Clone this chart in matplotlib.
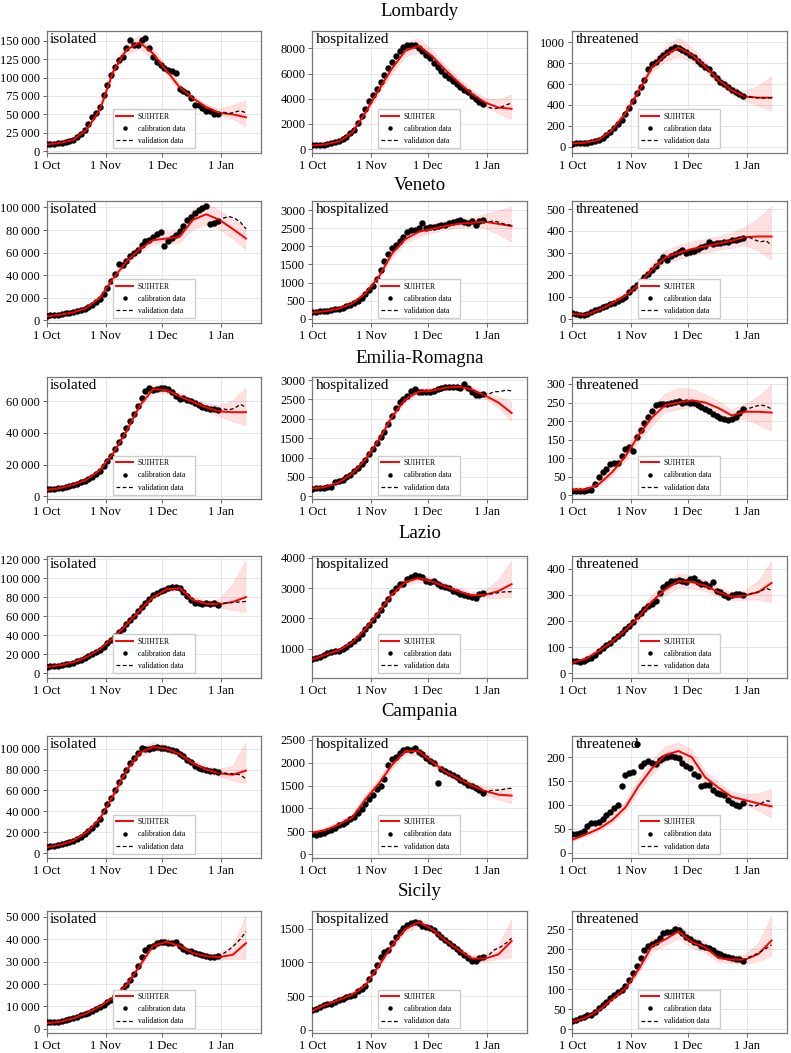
"""
SUIHTER fit vs data for six Italian regions, three compartments each.
"""

import numpy as np
import matplotlib
matplotlib.use("Agg")
from matplotlib import pyplot as plt
from matplotlib.ticker import FuncFormatter

plt.rcParams["font.family"] = ["Liberation Serif", "DejaVu Serif"]

regions = ["Lombardy", "Veneto", "Emilia-Romagna", "Lazio", "Campania", "Sicily"]
compartments = ["isolated", "hospitalized", "threatened"]
month_ticks = [0, 31, 61, 92]          # days after 1 Oct
month_labels = ["1 Oct", "1 Nov", "1 Dec", "1 Jan"]

cal_days = list(range(0, 91, 2))      # calibration data, every other day
val_days = [90, 93, 96, 99, 102, 105]  # validation data
fit_days = list(range(0, 106, 7))     # model output, weekly

# ---- Lombardy
lom_iso_cal = [9000, 9000, 9500, 10500, 11500, 12500, 14000, 15500, 19000, 23000,
               28000, 37000, 46000, 52000, 60000, 77000, 90000, 104000, 115000, 124000,
               128000, 140000, 152000, 144000, 145000, 152000, 154000, 140000, 128000, 122000,
               117000, 113000, 110000, 109000, 106000, 84000, 82000, 79000, 72000, 63000,
               63000, 58000, 54000, 54000, 50000, 50000]
lom_iso_val = [50000, 53000, 51000, 53000, 55000, 52000]
lom_iso_fit = [9000, 11000, 15000, 29000, 56000, 108000, 138000, 148000, 133000, 110000,
               87000, 72000, 60000, 52000, 50000, 46000]
lom_iso_up = [1000, 1000, 1500, 2500, 4000, 6000, 8000, 9000, 8000, 6000, 4500, 4000, 4000, 5000, 12000, 22000]
lom_iso_dn = [1000, 1000, 1500, 2500, 4000, 6000, 8000, 9000, 8000, 6000, 4500, 4000, 4000, 4000, 7000, 13000]
lom_iso_ticks = [0, 25000, 50000, 75000, 100000, 125000, 150000]

lom_hos_cal = [300, 310, 330, 360, 400, 450, 530, 630, 780, 960,
               1250, 1550, 2050, 2600, 3200, 3800, 4300, 4800, 5300, 5900,
               6400, 6900, 7400, 7800, 8100, 8250, 8300, 8250, 8050, 7800,
               7500, 7200, 6800, 6500, 6200, 5900, 5650, 5400, 5200, 4900,
               4700, 4500, 4250, 4000, 3750, 3550]
lom_hos_val = [3550, 3300, 3200, 3300, 3500, 3650]
lom_hos_fit = [280, 370, 600, 1300, 2900, 4700, 6400, 7800, 8200, 7400, 6300, 5300, 4400, 3700, 3300, 3200]
lom_hos_up = [100, 100, 150, 200, 300, 400, 500, 500, 600, 500, 400, 350, 300, 350, 600, 1100]
lom_hos_dn = [100, 100, 150, 200, 300, 400, 500, 500, 600, 500, 400, 350, 300, 350, 500, 850]
lom_hos_ticks = [0, 2000, 4000, 6000, 8000]

lom_thr_cal = [30, 32, 33, 35, 38, 42, 50, 62, 85, 110,
               140, 180, 215, 260, 310, 370, 440, 510, 570, 640,
               740, 790, 810, 850, 880, 910, 935, 955, 945, 925,
               905, 880, 855, 820, 790, 765, 740, 700, 660, 620,
               600, 570, 545, 520, 505, 490]
lom_thr_val = [490, 478, 470, 468, 465, 470]
lom_thr_fit = [30, 38, 65, 160, 320, 530, 760, 880, 950, 880, 770, 640, 540, 480, 470, 470]
lom_thr_up = [5, 8, 15, 20, 30, 40, 50, 70, 90, 70, 50, 40, 40, 50, 110, 200]
lom_thr_dn = [5, 8, 15, 20, 30, 40, 50, 70, 90, 70, 50, 40, 40, 45, 80, 130]
lom_thr_ticks = [0, 200, 400, 600, 800, 1000]

# ---- Veneto
ven_iso_cal = [4000, 4300, 4700, 5100, 5500, 6100, 6800, 7600, 8300, 9200,
               10200, 11500, 13500, 16000, 19000, 23500, 29000, 35000, 41000, 50000,
               49000, 53000, 57000, 60000, 62000, 67000, 70000, 71500, 73500, 76500,
               78000, 66000, 70000, 73000, 76000, 79000, 84000, 89000, 92000, 95000,
               97500, 99500, 101000, 85000, 86500, 88000]
ven_iso_val = [88000, 90500, 92000, 90500, 87000, 81000]
ven_iso_fit = [3500, 5000, 7000, 11000, 20000, 37000, 52000, 63000, 71000, 72500,
               74000, 89000, 94000, 89000, 81000, 72500]
ven_iso_up = [400, 500, 700, 1000, 1500, 2500, 3500, 4000, 4000, 5000, 6000, 9000, 9500, 8500, 8500, 10000]
ven_iso_dn = [400, 500, 700, 1000, 1500, 2500, 3500, 4000, 4000, 5000, 6000, 9000, 9500, 8500, 8500, 10000]
ven_iso_ticks = [0, 20000, 40000, 60000, 80000, 100000]

ven_hos_cal = [190, 190, 200, 210, 220, 240, 260, 280, 300, 340,
               390, 440, 500, 580, 680, 800, 900, 1100, 1350, 1600,
               1800, 1950, 2050, 2150, 2250, 2400, 2450, 2450, 2500, 2650,
               2500, 2520, 2540, 2550, 2580, 2600, 2650, 2680, 2700, 2720,
               2680, 2650, 2700, 2600, 2700, 2720]
ven_hos_val = [2720, 2680, 2700, 2650, 2600, 2580]
ven_hos_fit = [170, 210, 280, 420, 700, 1150, 1800, 2200, 2400, 2480, 2560, 2620, 2650, 2680, 2620, 2560]
ven_hos_up = [30, 30, 40, 50, 70, 100, 130, 150, 150, 130, 120, 120, 130, 200, 350, 530]
ven_hos_dn = [30, 30, 40, 50, 70, 100, 130, 150, 150, 130, 120, 120, 130, 180, 300, 440]
ven_hos_ticks = [0, 500, 1000, 1500, 2000, 2500, 3000]

ven_thr_cal = [25, 22, 18, 15, 20, 32, 40, 46, 52, 58,
               65, 72, 80, 90, 100, 120, 140, 152, 170, 190,
               205, 220, 240, 262, 282, 268, 288, 295, 302, 312,
               300, 305, 310, 320, 328, 330, 348, 342, 343, 345,
               350, 352, 358, 360, 365, 366]
ven_thr_val = [366, 372, 360, 350, 356, 335]
ven_thr_fit = [22, 18, 40, 70, 105, 155, 225, 280, 300, 318, 330, 343, 355, 372, 375, 375]
ven_thr_up = [8, 8, 10, 12, 15, 20, 25, 30, 32, 32, 32, 32, 35, 45, 80, 135]
ven_thr_dn = [8, 8, 10, 12, 15, 20, 25, 30, 32, 32, 32, 32, 35, 40, 65, 108]
ven_thr_ticks = [0, 100, 200, 300, 400, 500]

# ---- Emilia-Romagna
emi_iso_cal = [4300, 4500, 4800, 5100, 5500, 5900, 6500, 7300, 8000, 8800,
               9800, 10800, 12200, 14000, 16200, 19000, 22000, 25500, 29500, 34000,
               38500, 43000, 47500, 52000, 57000, 62000, 66500, 68500, 67000, 67500,
               68500, 68500, 67500, 66000, 63000, 61500, 62000, 60500, 60000, 58500,
               57500, 56500, 55500, 55000, 55000, 54500]
emi_iso_val = [54500, 55000, 54500, 55500, 58000, 56000]
emi_iso_fit = [4000, 5200, 7200, 10500, 16500, 27000, 41000, 57000, 67500, 67000,
               63000, 59500, 56000, 53500, 53000, 53000]
emi_iso_up = [300, 400, 500, 600, 800, 1000, 1500, 2000, 2500, 2300, 2000, 2000, 2500, 3500, 7000, 15000]
emi_iso_dn = [300, 400, 500, 600, 800, 1000, 1500, 2000, 2500, 2300, 2000, 2000, 2500, 3500, 6000, 8500]
emi_iso_ticks = [0, 20000, 40000, 60000]

emi_hos_cal = [200, 205, 210, 220, 230, 240, 370, 390, 430, 500,
               560, 640, 720, 820, 930, 1080, 1220, 1380, 1520, 1660,
               1860, 2060, 2270, 2420, 2500, 2600, 2720, 2770, 2680, 2680,
               2700, 2690, 2720, 2760, 2800, 2830, 2830, 2830, 2820, 2790,
               2890, 2800, 2680, 2610, 2620, 2630]
emi_hos_val = [2630, 2640, 2700, 2700, 2740, 2720]
emi_hos_fit = [200, 240, 360, 580, 950, 1450, 2050, 2500, 2700, 2720, 2800, 2830, 2760, 2600, 2420, 2150]
emi_hos_up = [20, 20, 30, 40, 50, 60, 70, 80, 80, 70, 70, 70, 70, 80, 150, 270]
emi_hos_dn = [20, 20, 30, 40, 50, 60, 70, 80, 80, 70, 70, 70, 70, 80, 150, 210]
emi_hos_ticks = [0, 500, 1000, 1500, 2000, 2500, 3000]

emi_thr_cal = [12, 12, 11, 12, 13, 14, 30, 48, 62, 70,
               85, 87, 88, 105, 125, 130, 118, 158, 175, 195,
               212, 228, 242, 247, 245, 247, 249, 252, 255, 248,
               251, 250, 248, 244, 238, 232, 227, 220, 214, 209,
               206, 203, 205, 212, 222, 232]
emi_thr_val = [232, 234, 239, 243, 241, 232]
emi_thr_fit = [15, 15, 30, 62, 105, 162, 210, 243, 250, 256, 250, 235, 215, 225, 225, 223]
emi_thr_up = [5, 5, 8, 12, 15, 20, 25, 30, 38, 30, 22, 18, 15, 20, 40, 75]
emi_thr_dn = [5, 5, 8, 12, 15, 20, 25, 20, 20, 20, 18, 15, 15, 20, 35, 50]
emi_thr_ticks = [0, 50, 100, 150, 200, 250, 300]

# ---- Lazio
laz_iso_cal = [7000, 7300, 7700, 8200, 8800, 9400, 10200, 11200, 12500, 14000,
               15800, 17800, 20000, 22500, 25000, 28000, 31500, 35000, 39000, 43000,
               47000, 51500, 56000, 60500, 65000, 69500, 74000, 78500, 82000, 84500,
               86500, 88000, 90000, 91000, 91000, 89500, 85000, 81000, 77000, 74000,
               73500, 73000, 73500, 73000, 73500, 71500]
laz_iso_val = [71500, 73500, 74000, 74500, 75000, 75500]
laz_iso_fit = [6500, 8500, 11500, 17000, 25500, 37000, 51000, 66000, 80000, 88000,
               89500, 77000, 73000, 72500, 75000, 80000]
laz_iso_up = [500, 600, 800, 1000, 1500, 2000, 2500, 3000, 3000, 3000, 3000, 3000, 3000, 5000, 18000, 38000]
laz_iso_dn = [500, 600, 800, 1000, 1500, 2000, 2500, 3000, 3000, 3000, 3000, 3000, 3000, 4000, 9000, 16000]
laz_iso_ticks = [0, 20000, 40000, 60000, 80000, 100000, 120000]

laz_hos_cal = [655, 690, 730, 790, 840, 880, 910, 930, 990, 1060,
               1150, 1240, 1360, 1480, 1640, 1780, 1930, 2100, 2280, 2470,
               2650, 2860, 3000, 3140, 3150, 3300, 3360, 3420, 3400, 3370,
               3250, 3200, 3250, 3140, 3080, 3030, 3000, 2920, 2880, 2800,
               2770, 2750, 2720, 2660, 2800, 2840]
laz_hos_val = [2840, 2800, 2820, 2860, 2880, 2880]
laz_hos_fit = [640, 800, 950, 1200, 1650, 2200, 2800, 3200, 3330, 3220, 3050, 2900, 2760, 2780, 2900, 3130]
laz_hos_up = [40, 50, 60, 70, 90, 100, 120, 130, 130, 120, 110, 100, 100, 130, 350, 760]
laz_hos_dn = [40, 50, 60, 70, 90, 100, 120, 130, 130, 120, 110, 100, 100, 120, 250, 440]
laz_hos_ticks = [1000, 2000, 3000, 4000]

laz_thr_cal = [48, 46, 44, 48, 54, 58, 70, 84, 97, 106,
               115, 129, 142, 155, 168, 180, 195, 219, 232, 245,
               258, 265, 277, 306, 329, 342, 351, 353, 355, 351,
               348, 361, 364, 348, 342, 340, 335, 348, 316, 310,
               297, 290, 297, 303, 303, 300]
laz_thr_val = [300, 303, 307, 312, 325, 316]
laz_thr_fit = [40, 55, 85, 120, 165, 215, 275, 320, 352, 348, 335, 310, 292, 297, 310, 345]
laz_thr_up = [5, 6, 8, 10, 14, 18, 22, 25, 28, 25, 22, 18, 15, 20, 40, 83]
laz_thr_dn = [5, 6, 8, 10, 14, 18, 22, 25, 28, 25, 22, 18, 15, 18, 30, 77]
laz_thr_ticks = [0, 100, 200, 300, 400]

# ---- Campania
cam_iso_cal = [6400, 6800, 7300, 8000, 8800, 9600, 10800, 12100, 13800, 16000,
               18500, 21500, 24500, 28000, 33000, 40000, 47000, 53000, 60000, 68000,
               74000, 80000, 86000, 91000, 96000, 100500, 100000, 100000, 101000, 102000,
               100500, 100500, 99700, 99000, 97400, 95000, 92600, 89500, 87000, 83000,
               81500, 80500, 80000, 79000, 78300, 77300]
cam_iso_val = [77300, 76700, 76300, 75700, 75000, 71000]
cam_iso_fit = [5500, 8000, 12000, 20000, 33000, 55000, 79000, 96000, 101500, 100000,
               95000, 86000, 80000, 76500, 75000, 79000]
cam_iso_up = [500, 600, 800, 1200, 2000, 3000, 4000, 4000, 4000, 3500, 3000, 3000, 3000, 4000, 8000, 27000]
cam_iso_dn = [500, 600, 800, 1200, 2000, 3000, 4000, 4000, 4000, 3500, 3000, 3000, 3000, 3500, 6000, 13000]
cam_iso_ticks = [0, 20000, 40000, 60000, 80000, 100000]

cam_hos_cal = [440, 430, 440, 460, 500, 520, 580, 640, 670, 700,
               760, 820, 900, 980, 1100, 1200, 1300, 1430, 1500, 1650,
               1950, 2080, 2130, 2200, 2270, 2290, 2280, 2310, 2230, 2180,
               2100, 2030, 1980, 1560, 1860, 1820, 1770, 1730, 1680, 1620,
               1570, 1520, 1480, 1450, 1410, 1340]
cam_hos_val = [1340, 1380, 1400, 1400, 1430, 1440]
cam_hos_fit = [470, 530, 650, 800, 1200, 1540, 1950, 2250, 2250, 2020, 1800, 1650, 1500, 1380, 1300, 1280]
cam_hos_up = [40, 40, 50, 60, 80, 100, 100, 100, 100, 90, 80, 70, 70, 80, 120, 170]
cam_hos_dn = [40, 40, 50, 60, 80, 100, 100, 100, 100, 90, 80, 70, 70, 80, 120, 170]
cam_hos_ticks = [0, 500, 1000, 1500, 2000, 2500]

cam_thr_cal = [39, 40, 42, 46, 55, 62, 62, 64, 70, 78,
               86, 93, 100, 139, 163, 167, 170, 227, 181, 188,
               192, 188, 185, 195, 199, 200, 202, 200, 199, 188,
               181, 178, 165, 160, 139, 141, 142, 132, 125, 123,
               121, 111, 104, 100, 97, 104]
cam_thr_val = [104, 100, 97, 102, 109, 107]
cam_thr_fit = [27, 38, 50, 68, 95, 140, 177, 205, 213, 200, 158, 136, 117, 110, 103, 97]
cam_thr_up = [4, 5, 6, 8, 10, 13, 15, 17, 17, 16, 14, 12, 10, 12, 20, 35]
cam_thr_dn = [4, 5, 6, 8, 10, 13, 15, 15, 14, 14, 12, 10, 9, 10, 15, 25]
cam_thr_ticks = [0, 50, 100, 150, 200]

# ---- Sicily
sic_iso_cal = [3000, 3000, 3100, 3300, 3500, 3900, 4400, 4900, 5400, 6000,
               6600, 7200, 8000, 8800, 9600, 10700, 11800, 13000, 14500, 16000,
               17800, 19700, 22000, 24500, 28000, 32000, 35200, 36400, 37000, 38200,
               38900, 38500, 38200, 38200, 38900, 37000, 35500, 34900, 34500, 33700,
               33300, 33000, 32500, 32200, 32200, 32500]
sic_iso_val = [32500, 33500, 35200, 37400, 40000, 43300]
sic_iso_fit = [2500, 3200, 4700, 7000, 10000, 14000, 19500, 28000, 37000, 38800,
               37000, 33800, 32300, 32000, 33000, 38200]
sic_iso_up = [300, 300, 400, 500, 600, 800, 1000, 1200, 1500, 1500, 1300, 1200, 1200, 1500, 4000, 11800]
sic_iso_dn = [300, 300, 400, 500, 600, 800, 1000, 1200, 1500, 1500, 1300, 1200, 1200, 1500, 2000, 7400]
sic_iso_ticks = [0, 10000, 20000, 30000, 40000, 50000]

sic_hos_cal = [297, 305, 330, 365, 375, 381, 410, 446, 460, 480,
               498, 520, 570, 610, 653, 760, 860, 965, 1080, 1150,
               1188, 1287, 1376, 1460, 1510, 1555, 1585, 1605, 1590, 1550,
               1530, 1520, 1485, 1430, 1380, 1335, 1285, 1245, 1208, 1160,
               1115, 1065, 1025, 1025, 1065, 1089]
sic_hos_val = [1089, 1114, 1188, 1228, 1287, 1361]
sic_hos_fit = [280, 370, 440, 520, 660, 950, 1250, 1500, 1600, 1500, 1330, 1190, 1060, 1060, 1120, 1320]
sic_hos_up = [20, 25, 30, 35, 40, 50, 60, 60, 60, 55, 50, 45, 45, 60, 120, 300]
sic_hos_dn = [20, 25, 30, 35, 40, 50, 60, 60, 60, 55, 50, 45, 45, 50, 80, 250]
sic_hos_ticks = [0, 500, 1000, 1500]

sic_thr_cal = [21, 23, 28, 31, 34, 36, 42, 52, 60, 69,
               78, 86, 93, 98, 108, 122, 140, 158, 178, 198,
               207, 213, 219, 228, 242, 244, 244, 252, 248, 240,
               232, 225, 219, 215, 208, 205, 202, 198, 190, 187,
               183, 180, 177, 175, 176, 171]
sic_thr_val = [171, 180, 186, 193, 202, 211]
sic_thr_fit = [18, 28, 47, 75, 102, 150, 208, 225, 245, 218, 205, 178, 174, 174, 188, 222]
sic_thr_up = [3, 4, 5, 7, 9, 12, 15, 17, 18, 16, 14, 12, 10, 12, 25, 60]
sic_thr_dn = [3, 4, 5, 7, 9, 12, 15, 17, 18, 16, 14, 12, 10, 12, 20, 40]
sic_thr_ticks = [0, 50, 100, 150, 200, 250]

panels = [
    [(lom_iso_cal, lom_iso_val, lom_iso_fit, lom_iso_up, lom_iso_dn, lom_iso_ticks),
     (lom_hos_cal, lom_hos_val, lom_hos_fit, lom_hos_up, lom_hos_dn, lom_hos_ticks),
     (lom_thr_cal, lom_thr_val, lom_thr_fit, lom_thr_up, lom_thr_dn, lom_thr_ticks)],
    [(ven_iso_cal, ven_iso_val, ven_iso_fit, ven_iso_up, ven_iso_dn, ven_iso_ticks),
     (ven_hos_cal, ven_hos_val, ven_hos_fit, ven_hos_up, ven_hos_dn, ven_hos_ticks),
     (ven_thr_cal, ven_thr_val, ven_thr_fit, ven_thr_up, ven_thr_dn, ven_thr_ticks)],
    [(emi_iso_cal, emi_iso_val, emi_iso_fit, emi_iso_up, emi_iso_dn, emi_iso_ticks),
     (emi_hos_cal, emi_hos_val, emi_hos_fit, emi_hos_up, emi_hos_dn, emi_hos_ticks),
     (emi_thr_cal, emi_thr_val, emi_thr_fit, emi_thr_up, emi_thr_dn, emi_thr_ticks)],
    [(laz_iso_cal, laz_iso_val, laz_iso_fit, laz_iso_up, laz_iso_dn, laz_iso_ticks),
     (laz_hos_cal, laz_hos_val, laz_hos_fit, laz_hos_up, laz_hos_dn, laz_hos_ticks),
     (laz_thr_cal, laz_thr_val, laz_thr_fit, laz_thr_up, laz_thr_dn, laz_thr_ticks)],
    [(cam_iso_cal, cam_iso_val, cam_iso_fit, cam_iso_up, cam_iso_dn, cam_iso_ticks),
     (cam_hos_cal, cam_hos_val, cam_hos_fit, cam_hos_up, cam_hos_dn, cam_hos_ticks),
     (cam_thr_cal, cam_thr_val, cam_thr_fit, cam_thr_up, cam_thr_dn, cam_thr_ticks)],
    [(sic_iso_cal, sic_iso_val, sic_iso_fit, sic_iso_up, sic_iso_dn, sic_iso_ticks),
     (sic_hos_cal, sic_hos_val, sic_hos_fit, sic_hos_up, sic_hos_dn, sic_hos_ticks),
     (sic_thr_cal, sic_thr_val, sic_thr_fit, sic_thr_up, sic_thr_dn, sic_thr_ticks)],
]

# y view limits per panel (row, col)
ylims = [
    [(-2300, 164000), (-290, 9400), (-58, 1112)],
    [(-2100, 106000), (-110, 3260), (-18, 538)],
    [(-1900, 75000), (-78, 3070), (-11, 318)],
    [(-4600, 123500), (40, 4070), (-17, 449)],
    [(-4800, 111800), (-87, 2573), (-12, 244)],
    [(-1800, 52500), (-50, 1767), (-10, 296)],
]


def thousands(v, pos):
    v = int(round(v))
    if abs(v) >= 10000:
        return f"{v:,}".replace(",", "\u2009")
    return str(v)


# layout, in pixels of the 791x1053 figure
W, H = 791.0, 1053.0
col_left = [46.7, 312.3, 572.3]
row_top = [30.7, 200.7, 377.3, 555.7, 736.3, 911.0]
title_y = [12, 186, 358, 533, 711, 891]
ax_w, ax_h = 214.5, 122.0

fig = plt.figure(figsize=(W / 100, H / 100), dpi=100)

for r, region in enumerate(regions):
    fig.text((col_left[1] + ax_w / 2) / W, 1 - title_y[r] / H, region,
             ha="center", va="center", fontsize=13.5)
    for c, comp in enumerate(compartments):
        cal, val, fit, up, dn, ticks = panels[r][c]
        ax = fig.add_axes([col_left[c] / W, 1 - (row_top[r] + ax_h) / H, ax_w / W, ax_h / H])
        fit = np.array(fit, dtype=float)
        ax.fill_between(fit_days, fit - np.array(dn), fit + np.array(up),
                        facecolor=(1, 0, 0, 0.12), edgecolor=(1, 0, 0, 0.22),
                        linestyle=":", linewidth=0.6, zorder=1)
        ax.plot(fit_days, fit, color="red", lw=1.4, label="SUIHTER", zorder=4)
        ax.plot(cal_days, cal, "o", color="black", ms=4.6, mew=0,
                label="calibration data", zorder=3)
        ax.plot(val_days, val, "--", color="black", lw=0.9, dashes=(3, 2),
                label="validation data", zorder=5)

        ax.set_xlim(0, 113)
        ax.set_ylim(*ylims[r][c])
        ax.set_xticks(month_ticks)
        ax.set_xticklabels(month_labels)
        ax.set_yticks(ticks)
        ax.yaxis.set_major_formatter(FuncFormatter(thousands))
        ax.tick_params(labelsize=9, length=3, width=0.7, color="#666666", pad=2)
        ax.grid(color="#e6e6e6", lw=0.7)
        ax.set_axisbelow(True)
        for sp in ax.spines.values():
            sp.set_color("#777777")
            sp.set_linewidth(0.9)

        ax.text(0.015, 0.985, comp, transform=ax.transAxes, ha="left", va="top",
                fontsize=11, zorder=6)
        ax.legend(loc="lower left", bbox_to_anchor=(0.308, 0.0385, 0.382, 0.28),
                  mode="expand", borderaxespad=0, fontsize=5.5, handlelength=2.3,
                  handletextpad=0.6, labelspacing=0.55, markerscale=0.7,
                  edgecolor="#cccccc", framealpha=1, fancybox=False)

fig.savefig("out.png", dpi=100)
plt.close(fig)
